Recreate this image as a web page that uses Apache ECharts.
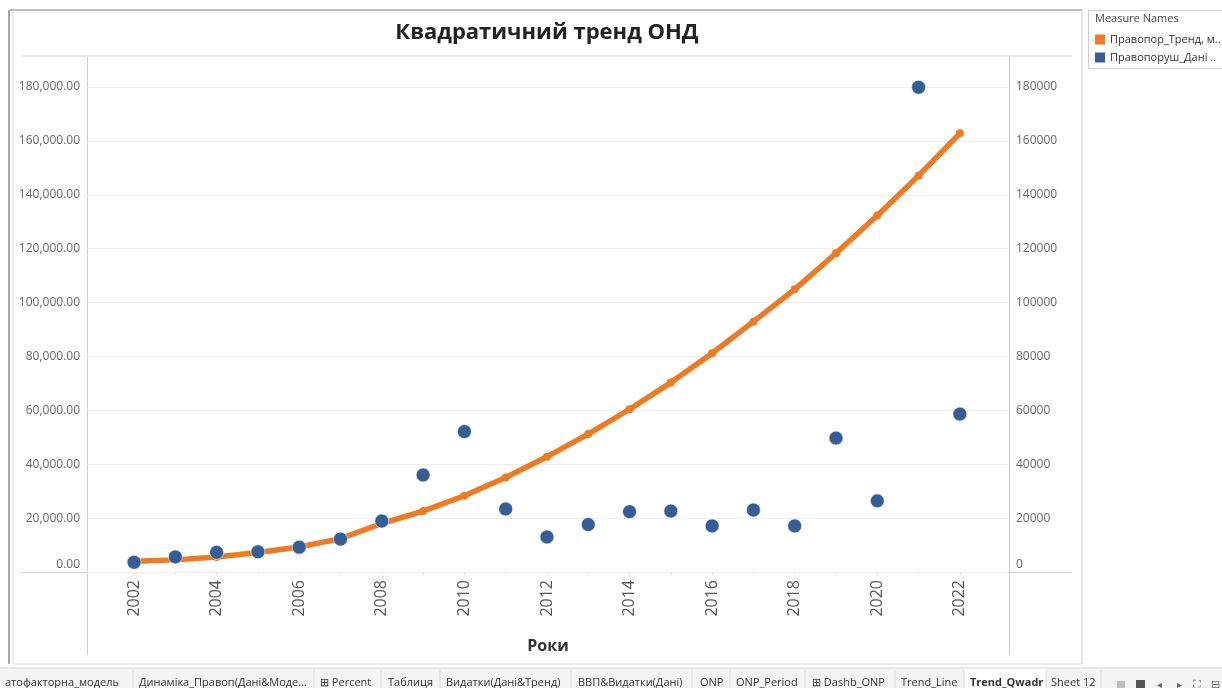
<!DOCTYPE html>
<html>
<head>
<meta charset="utf-8">
<script src="https://cdn.jsdelivr.net/npm/echarts@6/dist/echarts.min.js"></script>
<style>
  html,body{margin:0;padding:0;background:#fff;}
  #main{width:1222px;height:688px;}
</style>
</head>
<body>
<div id="main"></div>
<script>
// роки
const years = [2002,2003,2004,2005,2006,2007,2008,2009,2010,2011,2012,2013,2014,2015,2016,2017,2018,2019,2020,2021,2022];
// тренд (квадратичний)
const trendVals = [4000,4500,5600,7200,9300,12400,18000,22600,28300,35100,42800,51200,60400,70300,81200,92900,104900,118300,132300,147100,162800];
// фактичні дані
const dataVals = [3600,5600,7300,7500,9200,12200,18900,36000,52100,23400,13000,17600,22400,22600,17100,23000,17100,49700,26400,179900,58600];
// підписи осі X
const yearLabels = [2002,2004,2006,2008,2010,2012,2014,2016,2018,2020,2022];
// вкладки внизу
const tabNames = ['атофакторна_модель','Динаміка_Правоп(Дані&Моде...','⊞ Percent','Таблиця','Видатки(Дані&Тренд)','ВВП&Видатки(Дані)','ONP','ONP_Period','⊞ Dashb_ONP','Trend_Line','Trend_Qwadr','Sheet 12'];
const seriesNames = ['Правопор_Тренд, м..','Правопоруш_Дані ..'];

const chart = echarts.init(document.getElementById('main'));
const font = 'Open Sans';

function pairs(vals){
  return years.map((y,i)=>[y, vals[i]]);
}

// вкладки
const tabX = [5,139,320,388,446,578,700,736,812,901,970,1051];
const tabSep = [133,314,381,440,571,692,730,805,895,964,1046,1101];
let tabGraphics = [];
tabGraphics.push({type:'rect',shape:{x:0,y:668,width:1222,height:20},style:{fill:'#f4f4f4'},silent:true});
tabGraphics.push({type:'rect',shape:{x:964,y:668,width:82,height:20},style:{fill:'#ffffff'},silent:true});
tabGraphics.push({type:'line',shape:{x1:0,y1:668,x2:1222,y2:668},style:{stroke:'#d6d6d6',lineWidth:1},silent:true});
tabNames.forEach((t,i)=>{
  tabGraphics.push({type:'text',x:tabX[i],y:683,style:{text:t,fontFamily:font,fontSize:11,
    fontWeight:t==='Trend_Qwadr'?'bold':'normal',fill:'#333',textVerticalAlign:'middle'},silent:true});
  tabGraphics.push({type:'line',shape:{x1:tabSep[i],y1:670,x2:tabSep[i],y2:688},style:{stroke:'#d8d8d8',lineWidth:1},silent:true});
});
// іконки навігації
tabGraphics.push({type:'rect',shape:{x:1117,y:681,width:8,height:7},style:{fill:'#bbb'},silent:true});
tabGraphics.push({type:'rect',shape:{x:1136,y:680,width:9,height:8},style:{fill:'#555'},silent:true});
tabGraphics.push({type:'text',x:1157,y:685,style:{text:'◂',fontSize:10,fill:'#666',textVerticalAlign:'middle'},silent:true});
tabGraphics.push({type:'text',x:1177,y:685,style:{text:'▸',fontSize:10,fill:'#666',textVerticalAlign:'middle'},silent:true});
tabGraphics.push({type:'text',x:1193,y:685,style:{text:'⛶',fontSize:11,fill:'#666',textVerticalAlign:'middle'},silent:true});
tabGraphics.push({type:'text',x:1211,y:685,style:{text:'⊟',fontSize:11,fill:'#666',textVerticalAlign:'middle'},silent:true});

const option = {
  backgroundColor:'#fff',
  animation:false,
  textStyle:{fontFamily:font},
  grid:{left:87,right:213,top:56,bottom:116,containLabel:false},
  legend:{
    orient:'vertical',left:1095,top:34,padding:0,itemWidth:10,itemHeight:10,itemGap:7,
    icon:'rect',data:seriesNames,
    itemStyle:{borderWidth:0},
    textStyle:{fontSize:11,color:'#333',fontFamily:font}
  },
  graphic:[
    // рамка аркуша
    {type:'line',shape:{x1:9,y1:10,x2:1082,y2:10},style:{stroke:'#a8a8a8',lineWidth:1.5},silent:true},
    {type:'line',shape:{x1:9,y1:10,x2:9,y2:664},style:{stroke:'#a8a8a8',lineWidth:2},silent:true},
    {type:'line',shape:{x1:13,y1:12,x2:13,y2:664},style:{stroke:'#dddddd',lineWidth:1},silent:true},
    {type:'line',shape:{x1:13,y1:664,x2:1082,y2:664},style:{stroke:'#d8d8d8',lineWidth:1},silent:true},
    {type:'line',shape:{x1:1082,y1:10,x2:1082,y2:664},style:{stroke:'#d0d0d0',lineWidth:1},silent:true},
    // лінія під заголовком та вісь X
    {type:'line',shape:{x1:22,y1:56,x2:1072,y2:56},style:{stroke:'#cfcfcf',lineWidth:1},silent:true},
    {type:'line',shape:{x1:22,y1:572.5,x2:1072,y2:572.5},style:{stroke:'#cfcfcf',lineWidth:1},silent:true},
    {type:'line',shape:{x1:87.5,y1:56,x2:87.5,y2:655},style:{stroke:'#cfcfcf',lineWidth:1},silent:true},
    {type:'line',shape:{x1:1009.5,y1:56,x2:1009.5,y2:655},style:{stroke:'#cfcfcf',lineWidth:1},silent:true},
    // заголовок
    {type:'text',x:547,y:33,style:{text:'Квадратичний тренд ОНД',fontFamily:font,fontSize:22,fontWeight:'bold',
      fill:'#222',textAlign:'center',textVerticalAlign:'middle'},silent:true},
    // легенда
    {type:'rect',shape:{x:1088.5,y:10.5,width:140,height:58},style:{fill:'none',stroke:'#cfcfcf',lineWidth:1},silent:true},
    {type:'text',x:1095,y:19,style:{text:'Measure Names',fontFamily:font,fontSize:11,fill:'#444',textVerticalAlign:'middle'},silent:true}
  ].concat(tabGraphics),
  xAxis:{
    type:'value',min:2000.86,max:2023.19,
    name:'Роки',nameLocation:'middle',nameGap:66,
    nameTextStyle:{fontFamily:font,fontSize:16,fontWeight:'bold',color:'#333'},
    axisLine:{show:false},
    axisTick:{show:true,customValues:years,length:3,lineStyle:{color:'#e0e0e0'}},
    splitLine:{show:false},
    axisLabel:{customValues:yearLabels,rotate:90,margin:8,fontSize:16,color:'#555',fontFamily:font,
      formatter:v=>String(v)}
  },
  yAxis:[
    {
      type:'value',min:0,max:191500,interval:20000,position:'left',
      axisLine:{show:false},axisTick:{show:false},
      splitLine:{show:true,lineStyle:{color:'#eeeeee',width:1}},
      axisLabel:{margin:7,fontSize:12,color:'#666',fontFamily:font,showMaxLabel:false,
        formatter:v=>{
          if(v % 20000 !== 0) return '';
          const s = v.toLocaleString('en-US',{minimumFractionDigits:2,maximumFractionDigits:2});
          return v===0 ? '{z|'+s+'}' : s;
        },
        rich:{z:{fontSize:12,color:'#666',fontFamily:font,padding:[0,0,14,0]}}
      }
    },
    {
      type:'value',min:0,max:191500,interval:20000,position:'right',
      axisLine:{show:false},axisTick:{show:false},splitLine:{show:false},
      axisLabel:{margin:7,fontSize:12,color:'#666',fontFamily:font,showMaxLabel:false,
        formatter:v=>{
          if(v % 20000 !== 0) return '';
          return v===0 ? '{z|0}' : String(v);
        },
        rich:{z:{fontSize:12,color:'#666',fontFamily:font,padding:[0,0,14,0]}}
      }
    }
  ],
  series:[
    {
      name:seriesNames[0],type:'line',yAxisIndex:0,data:pairs(trendVals),
      smooth:false,symbol:'circle',symbolSize:8,
      lineStyle:{color:'#ef7a21',width:5.5},
      itemStyle:{color:'#ef7a21'},z:2
    },
    {
      name:seriesNames[1],type:'scatter',yAxisIndex:1,data:pairs(dataVals),
      symbol:'circle',symbolSize:14,
      itemStyle:{color:'#355e96',opacity:1,borderColor:'#ffffff',borderWidth:0.6},z:3
    }
  ]
};
chart.setOption(option);
</script>
</body>
</html>
